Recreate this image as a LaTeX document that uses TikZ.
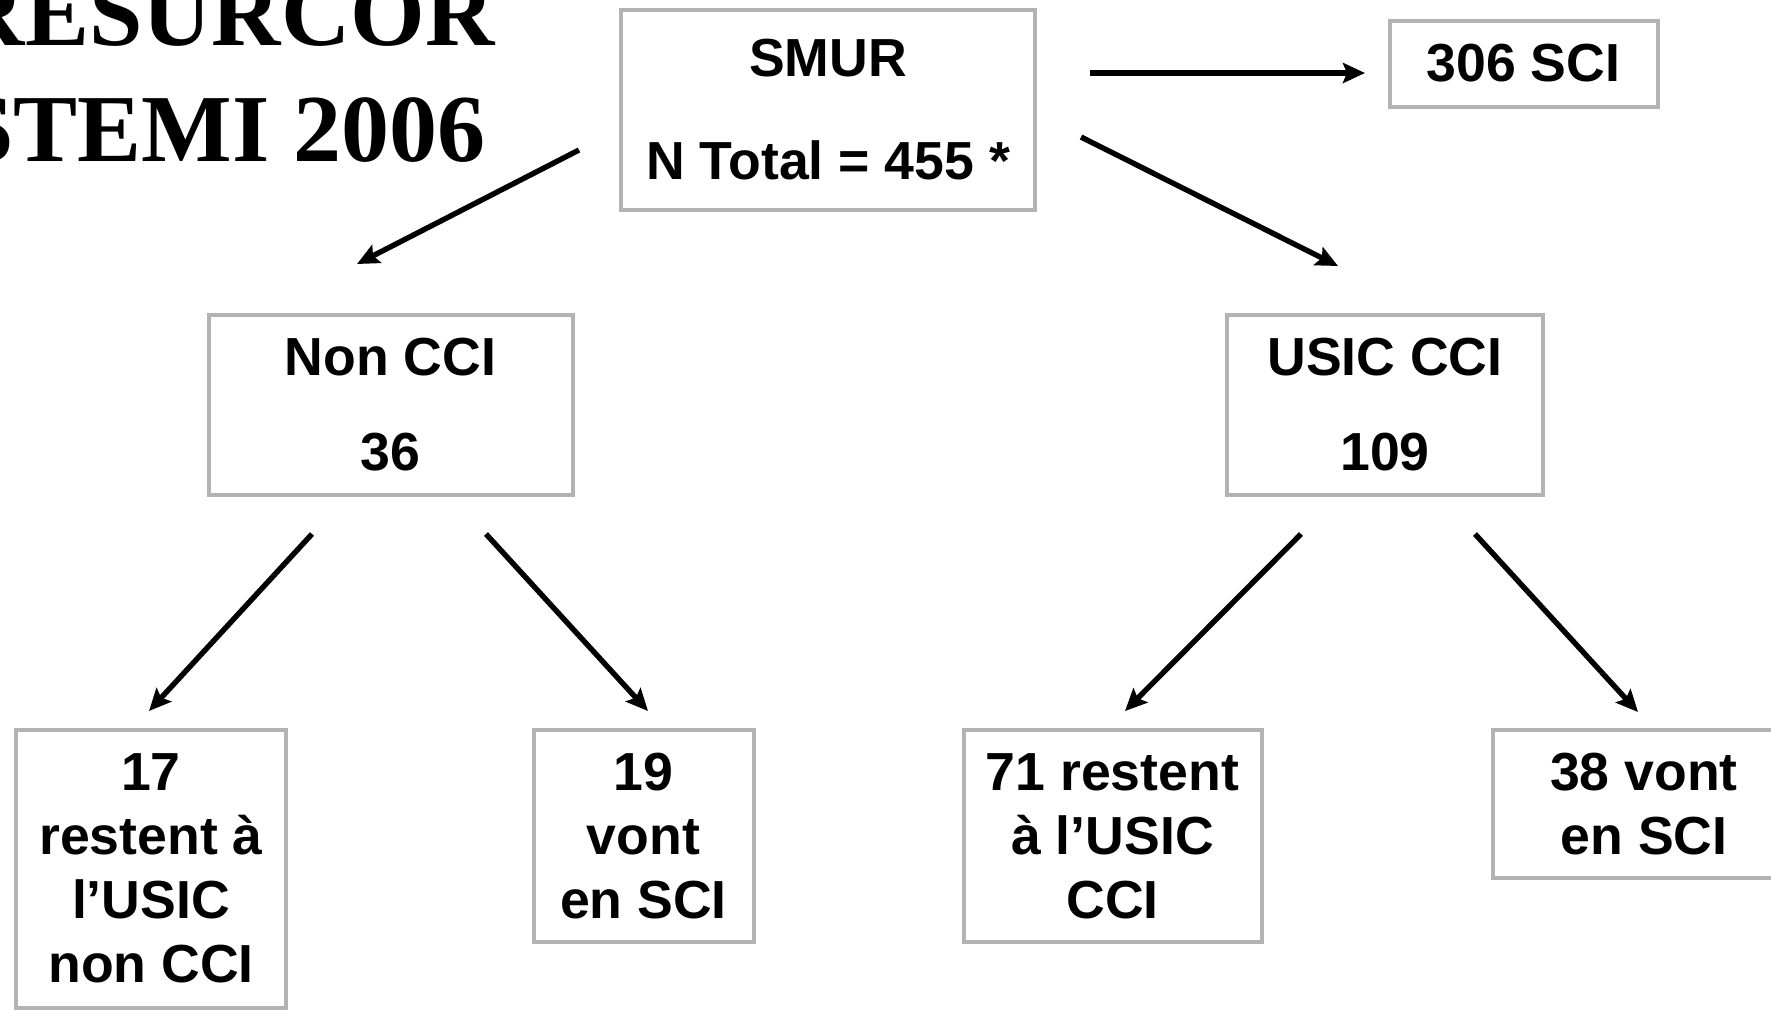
\documentclass[tikz,border=0pt]{standalone}
\usepackage{fontspec}
\setmainfont{Liberation Sans}
\newfontfamily\titlefont{Liberation Serif}
\usetikzlibrary{arrows.meta}
\definecolor{boxgray}{RGB}{179,179,179}
\begin{document}
\begin{tikzpicture}[x=0.5pt,y=-0.5pt,
  box/.style={draw=boxgray, line width=2pt, align=center, inner sep=0pt,
    font=\bfseries\fontsize{26.8}{32}\selectfont},
  ttl/.style={anchor=base east, inner sep=0pt,
    font=\titlefont\bfseries\fontsize{48}{58}\selectfont},
  arr/.style={-{Stealth[length=11pt,width=10pt,inset=2pt]}, line width=2.7pt}]
\useasboundingbox (0,0) rectangle (1771,1009);
\clip (0,0) rectangle (1771,1009);
\fill[white] (0,0) rectangle (1771,1009);
% title
\node[ttl] (title1) at (495,45) {RESURCOR};
\node[ttl] (title2) at (486,161) {STEMI 2006};
% boxes
\node[box, minimum width=207pt, minimum height=100pt] (smur) at (828,110) {SMUR\\[19.5pt]N Total = 455 *};
\node[box, minimum width=134pt, minimum height=43pt] (sci) at (1523.5,63.5) {306 SCI};
\node[box, minimum width=182pt, minimum height=90pt] (noncci) at (390.5,404.5) {Non CCI\\[15.5pt]36};
\node[box, minimum width=158pt, minimum height=90pt] (usic) at (1385,404.5) {USIC CCI\\[15.5pt]109};
\node[box, minimum width=135pt, minimum height=139pt] (n17) at (151,868.5) {17\\restent à\\l’USIC\\non CCI};
\node[box, minimum width=110pt, minimum height=106pt] (n19) at (643.5,836) {19\\vont\\en SCI};
\node[box, minimum width=149pt, minimum height=106pt] (n71) at (1112.5,836) {71 restent\\à l’USIC\\CCI};
\node[box, minimum width=151pt, minimum height=74pt] (n38) at (1644,804) {38 vont\\en SCI};
% arrow end points
\coordinate (a1s) at (579,150);  \coordinate (a1e) at (357,264);
\coordinate (a2s) at (1081,137); \coordinate (a2e) at (1338,266);
\coordinate (a3s) at (1090,73);  \coordinate (a3e) at (1365,73);
\coordinate (a4s) at (312,534);  \coordinate (a4e) at (149,711);
\coordinate (a5s) at (486,534);  \coordinate (a5e) at (648,711);
\coordinate (a6s) at (1301,534); \coordinate (a6e) at (1125,711);
\coordinate (a7s) at (1475,534); \coordinate (a7e) at (1638,712);
\draw[arr] (a1s) -- (a1e);
\draw[arr] (a2s) -- (a2e);
\draw[arr] (a3s) -- (a3e);
\draw[arr] (a4s) -- (a4e);
\draw[arr] (a5s) -- (a5e);
\draw[arr] (a6s) -- (a6e);
\draw[arr] (a7s) -- (a7e);
\end{tikzpicture}
\end{document}
